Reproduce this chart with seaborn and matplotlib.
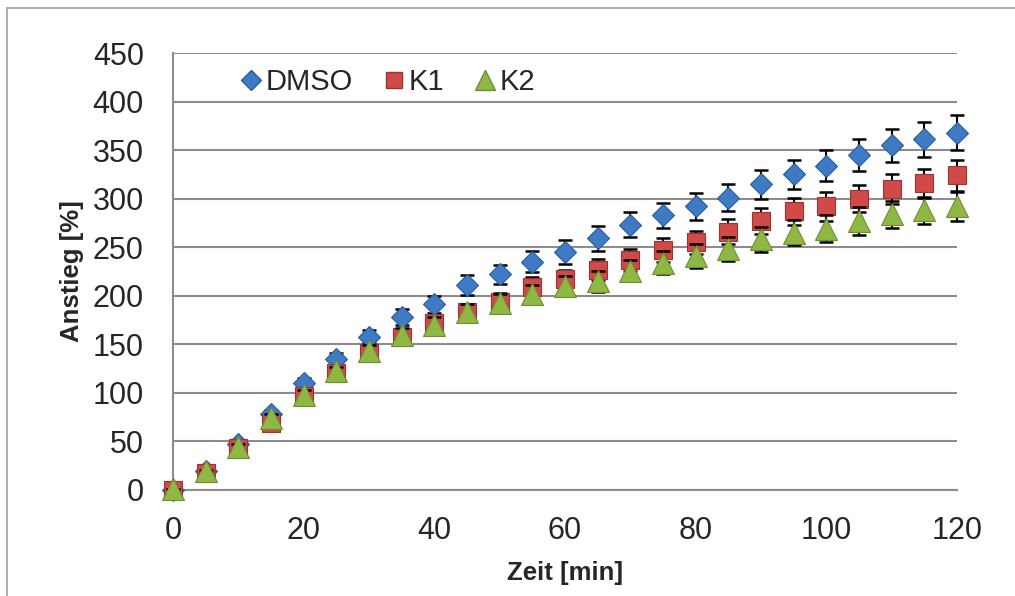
import numpy as np
import pandas as pd
import seaborn as sns
from matplotlib import pyplot as plt
from matplotlib.lines import Line2D

zeit = [0, 5, 10, 15, 20, 25, 30, 35, 40, 45, 50, 55, 60, 65, 70, 75, 80, 85, 90, 95, 100, 105, 110, 115, 120]

dmso = [0, 19, 47, 78, 110, 135, 158, 178, 191, 211, 222, 235, 245, 259, 273, 283, 292, 301, 315, 325, 334, 345, 355, 361, 368]
dmso_err = [0, 2, 3, 4, 5, 6, 7, 8, 9, 10, 10, 11, 12, 13, 13, 13, 14, 14, 15, 15, 16, 16, 17, 18, 18]

k1 = [0, 17, 43, 69, 97, 120, 141, 157, 172, 183, 194, 209, 217, 227, 237, 247, 255, 266, 277, 287, 292, 300, 310, 316, 324]
k1_err = [0, 2, 3, 4, 5, 5, 6, 7, 8, 9, 9, 10, 10, 11, 11, 12, 12, 13, 13, 14, 15, 14, 15, 15, 16]

k2 = [1, 19, 44, 74, 98, 122, 143, 160, 170, 183, 193, 202, 210, 215, 226, 234, 241, 248, 258, 265, 269, 277, 284, 288, 292]
k2_err = [0, 2, 3, 4, 5, 5, 6, 7, 8, 8, 9, 9, 10, 11, 11, 12, 12, 12, 13, 13, 14, 14, 14, 14, 15]

df = pd.DataFrame({'zeit': zeit, 'DMSO': dmso, 'K1': k1, 'K2': k2})
errs = {'DMSO': dmso_err, 'K1': k1_err, 'K2': k2_err}

styles = {
    'DMSO': dict(marker='D', ms=11.5, color='#3f7ac4', mec='#2c5d99'),
    'K1': dict(marker='s', ms=13.5, color='#d04a47', mec='#9c3330'),
    'K2': dict(marker='^', ms=16.5, color='#8fb744', mec='#6d8f2f'),
}

sns.set_style("white")
plt.rcParams['font.family'] = ['Liberation Sans', 'DejaVu Sans']

fig = plt.figure(figsize=(10.15, 5.96), dpi=100)
ax = fig.add_axes([0.1704, 0.178, 0.7725, 0.733])

grid_col = '#8c8c8c'
for i, name in enumerate(['DMSO', 'K1', 'K2']):
    st = styles[name]
    ax.errorbar(df['zeit'], df[name], yerr=errs[name], fmt='none', ecolor='black',
                elinewidth=1.5, capsize=5, capthick=1.8, zorder=3 + 2 * i)
    sns.lineplot(x=df['zeit'], y=df[name], ax=ax, linestyle='none', marker=st['marker'],
                 markersize=st['ms'], color=st['color'], markeredgecolor=st['mec'],
                 markeredgewidth=0.8, label=name, zorder=4 + 2 * i)

ax.set_xlim(0, 120)
ax.set_ylim(0, 450)
ax.set_xticks(range(0, 121, 20))
ax.set_yticks(range(0, 451, 50))
for c in ax.get_children():
    c.set_clip_on(False)

ax.grid(axis='y', color=grid_col, linewidth=1.5)
ax.set_axisbelow(True)
for s in ['top', 'right']:
    ax.spines[s].set_visible(False)
for s in ['left', 'bottom']:
    ax.spines[s].set_color(grid_col)
    ax.spines[s].set_linewidth(1.5)
ax.tick_params(axis='both', direction='out', length=7, width=1.5, color=grid_col,
               labelsize=22)
ax.tick_params(axis='y', pad=14)
ax.tick_params(axis='x', pad=12)

ax.set_xlabel('Zeit [min]', fontsize=18.5, fontweight='bold')
ax.set_ylabel('Anstieg [%]', fontsize=18.5, fontweight='bold')
ax.xaxis.set_label_coords(0.5, -0.162)
ax.yaxis.set_label_coords(-0.114, 0.5)

handles = [Line2D([], [], linestyle='none', marker=styles[n]['marker'],
                  markersize=styles[n]['ms'] * 0.85, color=styles[n]['color'],
                  markeredgecolor=styles[n]['mec']) for n in ['DMSO', 'K1', 'K2']]
ax.legend(handles, ['DMSO', 'K1', 'K2'], loc='center left', bbox_to_anchor=(0.089, 0.934),
          ncol=3, frameon=False, fontsize=21, handlelength=0.6, handletextpad=0.2,
          columnspacing=1.1, borderaxespad=0, borderpad=0)

# outer chart frame (only left and top edges inside the picture)
fig.add_artist(Line2D([7 / 1015, 7 / 1015], [0, 1 - 8 / 596], color='#a6a6a6', lw=1.3,
                      transform=fig.transFigure))
fig.add_artist(Line2D([7 / 1015, 1], [1 - 8 / 596, 1 - 8 / 596], color='#a6a6a6', lw=1.3,
                      transform=fig.transFigure))

fig.savefig('out.png', dpi=100)
